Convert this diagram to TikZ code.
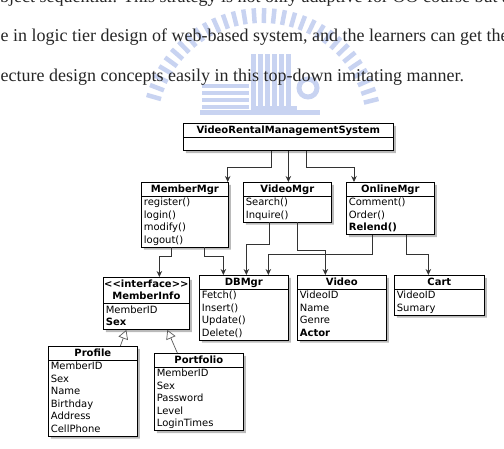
\documentclass[tikz,border=0pt]{standalone}
\usepackage{fontspec}
\newfontfamily\umlfont{DejaVu Sans}
\newfontfamily\pagefont{Liberation Serif}
\usepackage{tikz}
\tikzset{x=1pt,y=-1pt}
\usetikzlibrary{arrows.meta, shapes.multipart, shadows}
\definecolor{wmark}{RGB}{200,211,241}
\newcommand{\umlst}{\rule[-2.5pt]{0pt}{11.5pt}}
\newcommand{\umlhead}[1]{\makebox[\hsize]{\umlst\textbf{#1}}}

\begin{document}
\begin{tikzpicture}[
    umlclass/.style={rectangle split, rectangle split parts=2, draw, line width=.7pt,
      fill=white, text width=#1, align=left, inner xsep=2.5pt, inner ysep=.7pt,
      anchor=north west, font=\umlfont\fontsize{10}{12.5}\selectfont,
      drop shadow={shadow xshift=2.5pt, shadow yshift=-2.5pt, fill=black!60, opacity=.45}},
    link/.style={draw=black!80, line width=.8pt, -{Stealth[length=6pt,width=5.5pt]}},
    gen/.style={draw=black!65, line width=.7pt, -{Triangle[open,length=9pt,width=10pt]}},
    prose/.style={anchor=base west, inner sep=0pt, font=\pagefont\fontsize{18}{22}\selectfont, text=black!85}]
\useasboundingbox (0,0) rectangle (504,449);
\clip (0,0) rectangle (504,449);

% watermark
\foreach \t in {14,19,...,166}
  \draw[wmark, line width=4.5pt] ({262+105*cos(\t)},{128-105*sin(\t)})
    -- ({262+120*cos(\t)},{128-120*sin(\t)});
\foreach \y in {84,91,...,105}
  \fill[wmark] (202,\y) rectangle (249,\y+4);
\foreach \x in {251,258,...,290}
  \fill[wmark] (\x,54) rectangle (\x+5,110);
\fill[wmark] (251,106) rectangle (297,112);
\draw[wmark, line width=5pt] (308,88) circle (9);
\fill[wmark] (200,110) rectangle (320,115);

% page text
\node[prose] (line1) at (0,2.5) {bject sequential. This strategy is not only adaptive for OO course but also};
\node[prose] (line2) at (0.5,42) {e in logic tier design of web-based system, and the learners can get the};
\node[prose] (line3) at (0.5,82) {ecture design concepts easily in this top-down imitating manner.};

% classes
\node[umlclass=205] (vrms) at (183,123)
  {\umlhead{VideoRentalManagementSystem}
   \nodepart{second}\umlst};
\node[umlclass=82] (membermgr) at (141,182)
  {\umlhead{MemberMgr}
   \nodepart{second}\umlst register()\\ login()\\ modify()\\ logout()\umlst};
\node[umlclass=83] (videomgr) at (243,182)
  {\umlhead{VideoMgr}
   \nodepart{second}\umlst Search()\\ Inquire()\umlst};
\node[umlclass=83] (onlinemgr) at (346,182)
  {\umlhead{OnlineMgr}
   \nodepart{second}\umlst Comment()\\ Order()\\ \textbf{Relend()}\umlst};
\node[umlclass=81] (memberinfo) at (103,277)
  {\umlhead{<\kern0pt<interface>\kern0pt>}\\ \umlhead{MemberInfo}
   \nodepart{second}\umlst MemberID\\ \textbf{Sex}\umlst};
\node[umlclass=84] (dbmgr) at (199,275)
  {\umlhead{DBMgr}
   \nodepart{second}\umlst Fetch()\\ Insert()\\ Update()\\ Delete()\umlst};
\node[umlclass=84] (video) at (297,275)
  {\umlhead{Video}
   \nodepart{second}\umlst VideoID\\ Name\\ Genre\\ \textbf{Actor}\umlst};
\node[umlclass=85] (cart) at (394,275)
  {\umlhead{Cart}
   \nodepart{second}\umlst VideoID\\ Sumary\umlst};
\node[umlclass=84] (profile) at (48,346)
  {\umlhead{Profile}
   \nodepart{second}\umlst MemberID\\ Sex\\ Name\\ Birthday\\ Address\\ CellPhone\umlst};
\node[umlclass=84] (portfolio) at (154,353)
  {\umlhead{Portfolio}
   \nodepart{second}\umlst MemberID\\ Sex\\ Password\\ Level\\ LoginTimes\umlst};

% associations
\draw[link] ([xshift=-17pt]vrms.south) -- ++(0,17) -| ([xshift=-1pt]membermgr.north east);
\draw[link] (vrms.south) -- (vrms.south |- videomgr.north);
\draw[link] ([xshift=18pt]vrms.south) -- ++(0,17) -| ([xshift=8pt]onlinemgr.north west);
\draw[link] ([xshift=-13.5pt]membermgr.south) -- ++(0,9.5) -| ([xshift=13pt]memberinfo.north);
\draw[link] ([xshift=19.5pt]membermgr.south) -- ++(0,9.5) -| ([xshift=-20.5pt]dbmgr.north);
\draw[link] ([xshift=-18pt]videomgr.south) -- ++(0,22) -| ([xshift=2.5pt]dbmgr.north);
\draw[link] ([xshift=10pt]videomgr.south) -- ++(0,28) -| ([xshift=-16.5pt]video.north);
\draw[link] ([xshift=-18pt]onlinemgr.south) -- ++(0,20) -| ([xshift=24.5pt]dbmgr.north);
\draw[link] ([xshift=16pt]onlinemgr.south) -- ++(0,20) -| ([xshift=-11pt]cart.north);

% generalizations
\draw[gen] ([xshift=27.5pt]profile.north) -- ([xshift=-20pt]memberinfo.south);
\draw[gen] ([xshift=-21.5pt]portfolio.north) -- ([xshift=21pt]memberinfo.south);
\end{tikzpicture}
\end{document}
